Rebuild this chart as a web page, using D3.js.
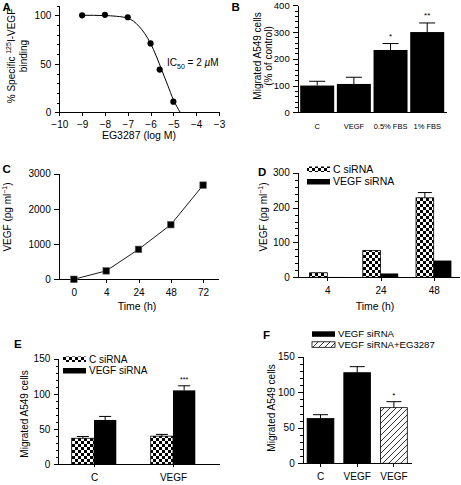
<!DOCTYPE html>
<html><head><meta charset="utf-8">
<script src="https://cdn.jsdelivr.net/npm/d3@7"></script>
<style>
body{margin:0;background:#fff;}
svg{display:block;font-family:"Liberation Sans",Arial,Helvetica,sans-serif;}
.axis path,.axis line{stroke:#000;stroke-width:1;shape-rendering:crispEdges;}
.axis text{fill:#000;}
</style></head><body>
<script>
// ---------- DATA ----------
// Panel A
const aLogConc = [-9, -8, -7, -6, -5.6, -5];
const aBinding = [100, 100.5, 98, 71, 44, 11];
const aFitX = [-9, -8.5, -8, -7.5, -7, -6.75, -6.5, -6.25, -6, -5.75, -5.5, -5.25, -5, -4.85, -4.7];
const aFitY = [100, 100, 99.7, 99, 97, 94, 88.5, 81, 71, 58, 43, 28, 13, 6, 0];
const aXTicks = [-10, -9, -8, -7, -6, -5, -4, -3];
const aYTicks = [0, 50, 100];
// Panel B
const bCats = ["C", "VEGF", "0.5% FBS", "1% FBS"];
const bValues = [100, 106, 233, 300];
const bErrTop = [116, 131, 257, 334];
const bStars = ["", "", "*", "**"];
const bYTicks = [0, 100, 200, 300, 400];
// Panel C
const cTimes = ["0", "4", "24", "48", "72"];
const cVEGF = [0, 240, 850, 1552, 2675];
const cYTicks = [0, 1000, 2000, 3000];
// Panel D
const dTimes = ["4", "24", "48"];
const dCsiRNA = [13, 77, 228];
const dCsiRNAErr = [13, 78, 243];
const dVsiRNA = [1, 11, 48];
const dYTicks = [0, 100, 200, 300];
// Panel E
const eGroups = ["C", "VEGF"];
const eCsiRNA = [37, 40];
const eCsiRNAErr = [39.5, 42.5];
const eVsiRNA = [63, 105];
const eVsiRNAErr = [68, 111.5];
const eStars = ["", "***"];
const eYTicks = [0, 50, 100, 150];
// Panel F
const fKeys = ["C", "VEGF", "VEGF+EG3287"];
const fLabels = ["C", "VEGF", "VEGF"];
const fValues = [63, 127.5, 78.3];
const fErrTop = [68.4, 136, 86.7];
const fTreat = ["VEGF siRNA", "VEGF siRNA", "VEGF siRNA+EG3287"];
const fStars = ["", "", "*"];
const fYTicks = [0, 50, 100, 150];

// ---------- SETUP ----------
const W = 461, H = 485;
const svg = d3.select("body").append("svg").attr("width", W).attr("height", H);
const defs = svg.append("defs");
const chk = defs.append("pattern").attr("id", "checker").attr("patternUnits", "userSpaceOnUse")
  .attr("width", 6).attr("height", 6);
chk.append("rect").attr("width", 6).attr("height", 6).attr("fill", "#fff");
chk.append("rect").attr("width", 3).attr("height", 3).attr("fill", "#000");
chk.append("rect").attr("x", 3).attr("y", 3).attr("width", 3).attr("height", 3).attr("fill", "#000");
const hat = defs.append("pattern").attr("id", "hatch").attr("patternUnits", "userSpaceOnUse")
  .attr("width", 6).attr("height", 6);
hat.append("rect").attr("width", 6).attr("height", 6).attr("fill", "#fff");
hat.append("path").attr("d", "M0,6L6,0M-1,1L1,-1M5,7L7,5").attr("stroke", "#000").attr("stroke-width", 0.8);

const FS_TICK = 10, FS_LAB = 10;

function yAxis(scale, x, major, minorStep, fs) {
  const g = svg.append("g").attr("class", "axis").attr("transform", `translate(${x},0)`);
  g.call(d3.axisLeft(scale).tickValues(major).tickSize(4.5).tickSizeOuter(0).tickPadding(3.5).tickFormat(d3.format("d")));
  g.selectAll("text").attr("font-size", fs || FS_TICK).attr("font-family", "inherit");
  if (minorStep) {
    const d = scale.domain();
    const minor = d3.range(d[0], d[1] + 1e-9, minorStep).filter(v => !major.includes(v));
    const m = svg.append("g").attr("class", "axis").attr("transform", `translate(${x},0)`);
    m.call(d3.axisLeft(scale).tickValues(minor).tickSize(2.5).tickFormat(""));
    m.select(".domain").remove();
  }
  return g;
}
function hLine(x1, x2, y) {
  svg.append("line").attr("x1", x1).attr("x2", x2).attr("y1", y).attr("y2", y)
    .attr("stroke", "#000").attr("stroke-width", 1).attr("shape-rendering", "crispEdges");
}
function rotLabel(x, y, lines, fs) {
  lines.forEach((ln, i) => {
    const t = svg.append("text").attr("transform", `translate(${ln.x},${y}) rotate(-90)`)
      .attr("text-anchor", "middle").attr("font-size", fs || FS_LAB);
    ln.parts.forEach(p => {
      const s = t.append("tspan").text(p.t);
      if (p.sup) s.attr("font-size", 7).attr("dy", -4);
      if (p.back) s.attr("dy", 4);
    });
  });
}
function letter(t, x, y) {
  svg.append("text").attr("x", x).attr("y", y).attr("font-size", 11.5).attr("font-weight", "bold").text(t);
}
function errBar(x, y0, y1, cw) {
  svg.append("line").attr("x1", x).attr("x2", x).attr("y1", y0).attr("y2", y1).attr("stroke", "#000").attr("stroke-width", 1);
  svg.append("line").attr("x1", x - cw / 2).attr("x2", x + cw / 2).attr("y1", y1).attr("y2", y1).attr("stroke", "#000").attr("stroke-width", 1);
}
function legendRow(x, y, fill, label, stroke, fs) {
  svg.append("rect").attr("x", x).attr("y", y).attr("width", 23).attr("height", 5.5)
    .attr("fill", fill).attr("stroke", stroke ? "#000" : "none").attr("stroke-width", 0.8);
  svg.append("text").attr("x", x + 26).attr("y", y + 6).attr("font-size", fs || FS_LAB).text(label);
}
const minus = d => d < 0 ? "\u2212" + Math.abs(d) : String(d);

// ---------- PANEL A ----------
{
  const x = d3.scaleLinear().domain([-10, -3]).range([59.3, 219]);
  const y = d3.scaleLinear().domain([0, 110]).range([112.3, 5.6]);
  yAxis(y, 59.3, aYTicks, 10);
  const gx = svg.append("g").attr("class", "axis").attr("transform", `translate(0,112.3)`)
    .call(d3.axisBottom(x).tickValues(aXTicks).tickSize(4).tickSizeOuter(0).tickPadding(5).tickFormat(minus));
  gx.selectAll("text").attr("font-size", FS_TICK).attr("font-family", "inherit");
  const fit = aFitX.map((v, i) => [v, aFitY[i]]);
  svg.append("path").datum(fit).attr("fill", "none").attr("stroke", "#000").attr("stroke-width", 1)
    .attr("d", d3.line().x(d => x(d[0])).y(d => y(d[1])).curve(d3.curveMonotoneX));
  svg.selectAll(".aPt").data(aLogConc).enter().append("circle")
    .attr("cx", d => x(d)).attr("cy", (d, i) => y(aBinding[i])).attr("r", 3.1).attr("fill", "#000");
  svg.append("text").attr("x", 139).attr("y", 139).attr("text-anchor", "middle").attr("font-size", 10.5).text("EG3287 (log M)");
  rotLabel(0, 56, [
    { x: 15, parts: [{ t: "% Specific " }, { t: "125", sup: true }, { t: "I-VEGF", back: true }] },
    { x: 27, parts: [{ t: "binding" }] }
  ]);
  const ic = svg.append("text").attr("x", 167).attr("y", 66).attr("font-size", FS_LAB);
  ic.append("tspan").text("IC");
  ic.append("tspan").attr("font-size", 7).attr("dy", 2.5).text("50");
  ic.append("tspan").attr("dy", -2.5).text(" = 2 ");
  ic.append("tspan").attr("font-style", "italic").text("\u00b5");
  ic.append("tspan").text("M");
  letter("A", 2.5, 11);
}

// ---------- PANEL B ----------
{
  const x = d3.scaleBand().domain(bCats).range([297.7, 446.7]).paddingInner(0.073).paddingOuter(0.068);
  const y = d3.scaleLinear().domain([0, 400]).range([112.3, 5.3]);
  yAxis(y, 297.7, bYTicks, 20, 9.5);
  const gx = svg.append("g").attr("class", "axis").attr("transform", `translate(0,112.3)`)
    .call(d3.axisBottom(x).tickSize(0).tickSizeOuter(0).tickPadding(11.5));
  gx.selectAll("text").attr("font-size", 7.5).attr("font-family", "inherit");
  svg.selectAll(".bBar").data(bCats).enter().append("rect")
    .attr("x", d => x(d)).attr("width", x.bandwidth())
    .attr("y", (d, i) => y(bValues[i])).attr("height", (d, i) => y(0) - y(bValues[i])).attr("fill", "#000");
  bCats.forEach((c, i) => {
    const cx = x(c) + x.bandwidth() / 2;
    errBar(cx, y(bValues[i]), y(bErrTop[i]), 16);
    if (bStars[i]) svg.append("text").attr("x", cx).attr("y", y(bErrTop[i]) - 5).attr("text-anchor", "middle")
      .attr("font-size", 8).text(bStars[i]);
  });
  rotLabel(0, 56, [
    { x: 261, parts: [{ t: "Migrated A549 cells" }] },
    { x: 271.5, parts: [{ t: "(% of control)" }] }
  ]);
  letter("B", 231.5, 11);
}

// ---------- PANEL C ----------
{
  const x = d3.scalePoint().domain(cTimes).range([58.7, 218.3]).padding(0.47);
  const y = d3.scaleLinear().domain([0, 3000]).range([279.3, 173.7]);
  yAxis(y, 58.7, cYTicks, 0);
  const gx = svg.append("g").attr("class", "axis").attr("transform", `translate(0,279.3)`)
    .call(d3.axisBottom(x).tickSize(4).tickSizeOuter(0).tickPadding(6));
  gx.selectAll("text").attr("font-size", FS_TICK).attr("font-family", "inherit");
  svg.append("path").datum(cTimes).attr("fill", "none").attr("stroke", "#000").attr("stroke-width", 0.9)
    .attr("d", d3.line().x(d => x(d)).y((d, i) => y(cVEGF[i])));
  svg.selectAll(".cPt").data(cTimes).enter().append("rect")
    .attr("x", d => x(d) - 3.3).attr("y", (d, i) => y(cVEGF[i]) - 3.3).attr("width", 6.6).attr("height", 6.6)
    .attr("fill", "#000").attr("stroke", "#666").attr("stroke-width", 0.6);
  svg.append("text").attr("x", 137).attr("y", 309.5).attr("text-anchor", "middle").attr("font-size", 10.5).text("Time (h)");
  rotLabel(0, 217, [
    { x: 10.5, parts: [{ t: "VEGF (pg ml" }, { t: "\u22121", sup: true }, { t: ")", back: true }] }
  ]);
  letter("C", 2.5, 173);
}

// ---------- PANEL D ----------
{
  const x = d3.scalePoint().domain(dTimes).range([327.3, 433.7]);
  const sub = d3.scaleBand().domain(["C siRNA", "VEGF siRNA"]).range([-17.7, 17.7]);
  const y = d3.scaleLinear().domain([0, 300]).range([277.3, 172.7]);
  yAxis(y, 297.7, dYTicks, 20);
  const gx = svg.append("g").attr("class", "axis").attr("transform", `translate(0,277.3)`)
    .call(d3.axisBottom(x).tickSize(4).tickSizeOuter(0).tickPadding(6));
  gx.select(".domain").remove();
  gx.selectAll("text").attr("font-size", FS_TICK).attr("font-family", "inherit");
  svg.selectAll(".dC").data(dTimes).enter().append("rect")
    .attr("x", d => x(d) + sub("C siRNA")).attr("width", sub.bandwidth())
    .attr("y", (d, i) => y(dCsiRNA[i])).attr("height", (d, i) => y(0) - y(dCsiRNA[i]))
    .attr("fill", "url(#checker)").attr("stroke", "#000").attr("stroke-width", 0.8);
  svg.selectAll(".dV").data(dTimes).enter().append("rect")
    .attr("x", d => x(d) + sub("VEGF siRNA")).attr("width", sub.bandwidth())
    .attr("y", (d, i) => y(dVsiRNA[i])).attr("height", (d, i) => y(0) - y(dVsiRNA[i])).attr("fill", "#000");
  dTimes.forEach((t, i) => {
    if (dCsiRNAErr[i] > dCsiRNA[i] + 1) errBar(x(t) + sub("C siRNA") + sub.bandwidth() / 2, y(dCsiRNA[i]), y(dCsiRNAErr[i]), 14);
  });
  hLine(297.7, 460, 277.3);
  svg.append("text").attr("x", 375).attr("y", 309.5).attr("text-anchor", "middle").attr("font-size", 10.5).text("Time (h)");
  rotLabel(0, 217, [
    { x: 266.5, parts: [{ t: "VEGF (pg ml" }, { t: "\u22121", sup: true }, { t: ")", back: true }] }
  ]);
  legendRow(307, 166.5, "url(#checker)", "C siRNA", false, 10.5);
  legendRow(307, 179, "#000", "VEGF siRNA", false, 10.5);
  letter("D", 258, 176);
}

// ---------- PANEL E ----------
{
  const x = d3.scalePoint().domain(eGroups).range([94, 173]);
  const sub = d3.scaleBand().domain(["C siRNA", "VEGF siRNA"]).range([-22.3, 22.3]);
  const y = d3.scaleLinear().domain([0, 150]).range([464.3, 358.7]);
  yAxis(y, 58.3, eYTicks, 10);
  const gx = svg.append("g").attr("class", "axis").attr("transform", `translate(0,464.3)`)
    .call(d3.axisBottom(x).tickSize(3).tickSizeOuter(0).tickPadding(7));
  gx.select(".domain").remove();
  gx.selectAll("text").attr("font-size", FS_TICK).attr("font-family", "inherit");
  svg.selectAll(".eC").data(eGroups).enter().append("rect")
    .attr("x", d => x(d) + sub("C siRNA")).attr("width", sub.bandwidth())
    .attr("y", (d, i) => y(eCsiRNA[i])).attr("height", (d, i) => y(0) - y(eCsiRNA[i]))
    .attr("fill", "url(#checker)").attr("stroke", "#000").attr("stroke-width", 0.8);
  svg.selectAll(".eV").data(eGroups).enter().append("rect")
    .attr("x", d => x(d) + sub("VEGF siRNA")).attr("width", sub.bandwidth())
    .attr("y", (d, i) => y(eVsiRNA[i])).attr("height", (d, i) => y(0) - y(eVsiRNA[i])).attr("fill", "#000");
  eGroups.forEach((g, i) => {
    const cx1 = x(g) + sub("C siRNA") + sub.bandwidth() / 2;
    const cx2 = x(g) + sub("VEGF siRNA") + sub.bandwidth() / 2;
    errBar(cx1, y(eCsiRNA[i]), y(eCsiRNAErr[i]), 12);
    errBar(cx2, y(eVsiRNA[i]), y(eVsiRNAErr[i]), 12);
    if (eStars[i]) svg.append("text").attr("x", cx2).attr("y", y(eVsiRNAErr[i]) - 4).attr("text-anchor", "middle")
      .attr("font-size", 7).text(eStars[i]);
  });
  hLine(58.3, 220, 464.3);
  rotLabel(0, 414, [{ x: 27.5, parts: [{ t: "Migrated A549 cells" }] }]);
  legendRow(63, 356.5, "url(#checker)", "C siRNA", false);
  legendRow(63, 368, "#000", "VEGF siRNA", false);
  letter("E", 14, 348);
}

// ---------- PANEL F ----------
{
  const x = d3.scaleBand().domain(fKeys).range([302.7, 411.7]).paddingInner(0.27).paddingOuter(0.12);
  const y = d3.scaleLinear().domain([0, 150]).range([463.3, 356.7]);
  yAxis(y, 302.7, fYTicks, 10);
  const gx = svg.append("g").attr("class", "axis").attr("transform", `translate(0,463.3)`)
    .call(d3.axisBottom(x).tickSize(4).tickSizeOuter(0).tickPadding(6).tickFormat((d, i) => fLabels[i]));
  gx.selectAll("text").attr("font-size", FS_TICK).attr("font-family", "inherit");
  svg.selectAll(".fBar").data(fKeys).enter().append("rect")
    .attr("x", d => x(d)).attr("width", x.bandwidth())
    .attr("y", (d, i) => y(fValues[i])).attr("height", (d, i) => y(0) - y(fValues[i]))
    .attr("fill", (d, i) => fTreat[i] === "VEGF siRNA" ? "#000" : "url(#hatch)")
    .attr("stroke", "#000").attr("stroke-width", 0.8);
  fKeys.forEach((k, i) => {
    const cx = x(k) + x.bandwidth() / 2;
    errBar(cx, y(fValues[i]), y(fErrTop[i]), 15);
    if (fStars[i]) svg.append("text").attr("x", cx).attr("y", y(fErrTop[i]) - 4).attr("text-anchor", "middle")
      .attr("font-size", 8).text(fStars[i]);
  });
  rotLabel(0, 408, [{ x: 274.5, parts: [{ t: "Migrated A549 cells" }] }]);
  legendRow(312, 331.3, "#000", "VEGF siRNA", false, 9.6);
  legendRow(312, 341.8, "url(#hatch)", "VEGF siRNA+EG3287", true, 9.6);
  letter("F", 263, 339);
}
</script>
</body></html>
